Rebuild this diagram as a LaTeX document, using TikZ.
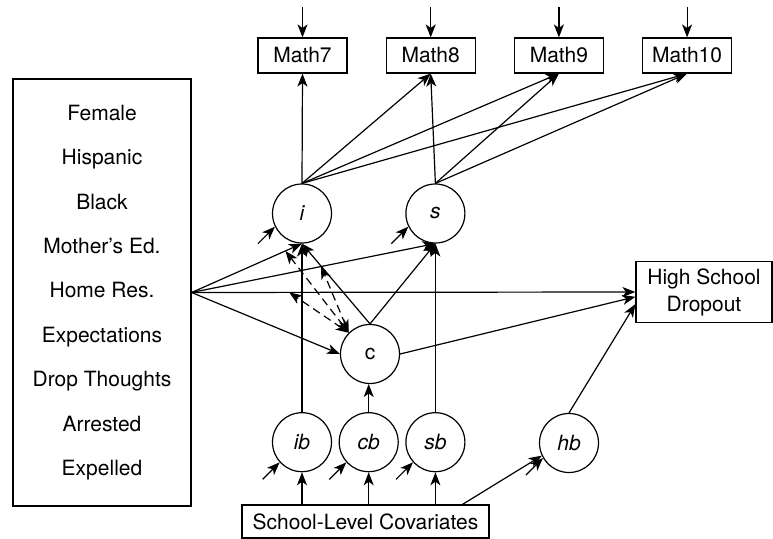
\documentclass[tikz,border=0pt]{standalone}
\usepackage{fontspec}
\setmainfont{TeX Gyre Heros}
\usepackage{tikz}
\usetikzlibrary{positioning,arrows.meta}

\begin{document}
\begin{tikzpicture}[
x=0.5pt, y=-0.5pt,
line width=0.6pt,
>={Stealth[length=6.5pt,width=5pt,inset=1.8pt]},
font=\fontsize{10.5}{12.6}\selectfont,
obsbox/.style={draw, rectangle, inner sep=0pt, minimum width=44.5pt, minimum height=17.5pt},
latent/.style={circle, draw, inner sep=0pt, minimum size=29.5pt, font=\fontsize{10.5}{12.6}\selectfont\itshape},
arrowline/.style={->},
modline/.style={<->, dash pattern=on 4pt off 2.5pt}
]
    \useasboundingbox (0,0) rectangle (773,539);

    %Nodes
    \node[draw, minimum width=89pt, minimum height=213.5pt, align=center, font=\fontsize{10.5}{22.2}\selectfont]
        (covs)  at (102,292.5)    {Female\\Hispanic\\Black\\Mother's Ed.\\Home Res.\\Expectations\\Drop Thoughts\\Arrested\\Expelled};
    \node[obsbox]
        (math7) at (302.5,55.5)   {Math7};
    \node[obsbox]
        (math8) [right=19pt of math7]  {Math8};
    \node[obsbox]
        (math9) [right=19pt of math8]  {Math9};
    \node[obsbox]
        (math10) [right=19pt of math9] {Math10};
    \node[latent]
        (i)     at (302,213.5)    {i};
    \node[latent]
        (ib)    [below=84.25pt of i]   {ib};
    \node[latent]
        (cb)    [right=3.25pt of ib]   {cb};
    \node[latent]
        (sb)    [right=3.25pt of cb]   {sb};
    \node[latent]
        (s)     [above=84.25pt of sb]  {s};
    \node[latent, font=\fontsize{10.5}{12.6}\selectfont\upshape]
        (c)     at (370,354)      {c};
    \node[latent]
        (hb)    at (569,443)      {hb};
    \node[draw, minimum width=68pt, minimum height=29pt, align=center, font=\fontsize{10.5}{13.5}\selectfont]
        (drop)  at (704,292)      {High School\\Dropout};
    \node[draw, minimum width=123.5pt, minimum height=16.5pt, inner sep=0pt]
        (school) at (365.5,521.5) {School-Level Covariates};

    %Lines
    \foreach \m in {7,8,9,10} {
        \coordinate (top\m) at ([yshift=15pt]math\m.north);
        \draw[arrowline] (top\m) -- (math\m.north);
        \draw[arrowline] (i.north) -- (math\m.south);
    }
    \foreach \m in {8,9,10}
        \draw[arrowline] (s.north) -- (math\m.south);
    \foreach \t in {i.south, s.south, drop.west, c.west}
        \draw[arrowline] (covs.east) -- (\t);
    \draw[arrowline] (ib.north) -- (i.south);
    \draw[arrowline] (sb.north) -- (s.south);
    \draw[arrowline] (cb.north) -- (cb.north |- c.south);
    \draw[arrowline] (c.north) -- (i.south);
    \draw[arrowline] (c.north) -- (s.south);
    \draw[arrowline] (c.east) -- (drop.184);
    \draw[arrowline] (hb.north) -- (drop.190);
    \foreach \n in {ib,cb,sb}
        \draw[arrowline] (school.north -| \n) -- (\n.south);
    \draw[arrowline] (school.10) -- (hb.205);

    %Residuals
    \foreach \n/\a in {i/206,s/206,ib/222,cb/222,sb/222,hb/210} {
        \coordinate (e\n) at ([shift={(-8.5pt,-8.5pt)}]\n.\a);
        \draw[arrowline] (e\n) -- (\n.\a);
    }

    %Interactions
    \path (covs.east) -- (i.south) coordinate[pos=0.85] (mi);
    \path (covs.east) -- (drop.west) coordinate[pos=0.22] (md);
    \path (c.north) -- (i.south) coordinate[pos=0.72] (mc);
    \foreach \t in {mi,md,mc}
        \draw[modline] (c.135) -- (\t);
\end{tikzpicture}
\end{document}
